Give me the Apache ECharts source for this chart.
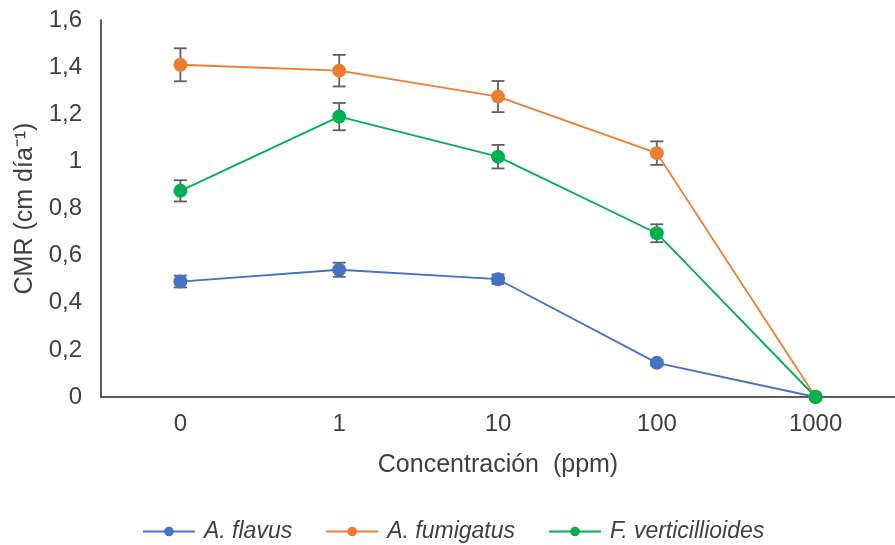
<!DOCTYPE html>
<html>
<head>
<meta charset="utf-8">
<script src="https://cdn.jsdelivr.net/npm/echarts@6/dist/echarts.min.js"></script>
<style>html,body{margin:0;padding:0;background:#fff}#c{width:895px;height:545px}</style>
</head>
<body>
<div id="c"></div>
<script>
const categories = ['0', '1', '10', '100', '1000'];
const flavus = [0.49, 0.54, 0.50, 0.145, 0];
const flavusErr = [0.025, 0.03, 0.02, 0.012, 0];
const fumigatus = [1.41, 1.385, 1.275, 1.035, 0];
const fumigatusErr = [0.07, 0.067, 0.066, 0.05, 0];
const verti = [0.875, 1.19, 1.02, 0.695, 0];
const vertiErr = [0.045, 0.058, 0.05, 0.038, 0];
const yTicks = [0, 0.2, 0.4, 0.6, 0.8, 1, 1.2, 1.4, 1.6];

const FONT = 'Liberation Sans';
const TXT = '#404040';

function errData(vals, errs) {
  return vals.map((v, i) => [i, v - errs[i], v + errs[i]]);
}
function errSeries(vals, errs) {
  return {
    type: 'custom',
    z: 1,
    silent: true,
    data: errData(vals, errs),
    renderItem: function (params, api) {
      const x = api.value(0);
      const lo = api.coord([x, api.value(1)]);
      const hi = api.coord([x, api.value(2)]);
      if (Math.abs(hi[1] - lo[1]) < 0.5) return null;
      const w = 6.5;
      const st = { stroke: '#606060', lineWidth: 1.8 };
      return {
        type: 'group',
        children: [
          { type: 'line', shape: { x1: lo[0], y1: lo[1], x2: hi[0], y2: hi[1] }, style: st },
          { type: 'line', shape: { x1: lo[0] - w, y1: lo[1], x2: lo[0] + w, y2: lo[1] }, style: st },
          { type: 'line', shape: { x1: hi[0] - w, y1: hi[1], x2: hi[0] + w, y2: hi[1] }, style: st }
        ]
      };
    }
  };
}
function lineSeries(name, vals, color, z) {
  return {
    name: name,
    type: 'line',
    data: vals,
    z: z,
    symbol: 'circle',
    symbolSize: 14,
    showSymbol: true,
    itemStyle: { color: color },
    lineStyle: { color: color, width: 1.8 }
  };
}

const chart = echarts.init(document.getElementById('c'));
chart.setOption({
  animation: false,
  backgroundColor: '#fff',
  textStyle: { fontFamily: FONT },
  grid: { left: 101, top: 20, width: 806, height: 377, containLabel: false },
  legend: {
    top: 515,
    left: 137,
    itemWidth: 52,
    itemHeight: 12,
    itemGap: 33,
    textStyle: { fontFamily: FONT, fontSize: 23, fontStyle: 'italic', color: TXT, padding: [0, 0, 0, 4] },
    data: ['A. flavus', 'A. fumigatus', 'F. verticillioides']
  },
  xAxis: {
    type: 'category',
    data: categories,
    boundaryGap: true,
    axisLine: { lineStyle: { color: '#262626', width: 1.5 } },
    axisTick: { show: false },
    axisLabel: { fontFamily: FONT, fontSize: 24, color: TXT, margin: 15 },
    name: 'Concentración  (ppm)',
    nameLocation: 'middle',
    nameGap: 56,
    nameTextStyle: { fontFamily: FONT, fontSize: 25, color: TXT }
  },
  yAxis: {
    type: 'value',
    min: 0,
    max: 1.6,
    interval: 0.2,
    splitLine: { show: false },
    axisLine: { show: true, lineStyle: { color: '#262626', width: 1.5 } },
    axisTick: { show: false },
    axisLabel: {
      fontFamily: FONT, fontSize: 24, color: TXT, margin: 19,
      formatter: function (v) {
        const t = yTicks.find(k => Math.abs(k - v) < 1e-6);
        const r = t === undefined ? Math.round(v * 10) / 10 : t;
        return String(r).replace('.', ',');
      }
    },
    name: 'CMR (cm día⁻¹)',
    nameLocation: 'middle',
    nameGap: 53,
    nameTextStyle: { fontFamily: FONT, fontSize: 25, color: TXT }
  },
  series: [
    errSeries(flavus, flavusErr),
    errSeries(fumigatus, fumigatusErr),
    errSeries(verti, vertiErr),
    lineSeries('A. flavus', flavus, '#4472C4', 3),
    lineSeries('A. fumigatus', fumigatus, '#ED7D31', 4),
    lineSeries('F. verticillioides', verti, '#00B050', 5)
  ]
});
</script>
</body>
</html>
